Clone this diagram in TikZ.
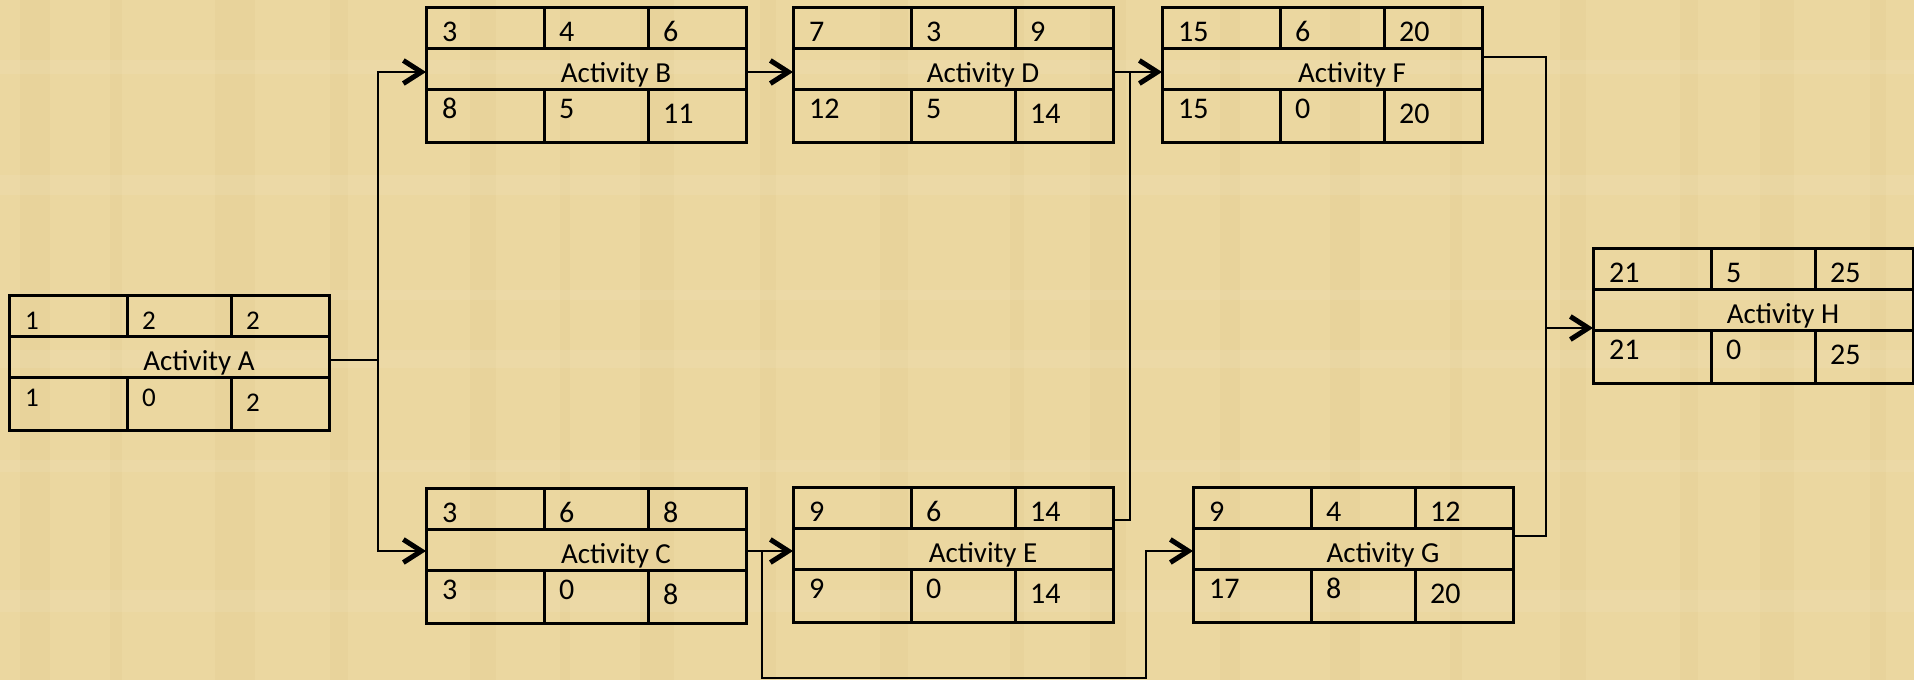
\documentclass[tikz,border=0pt]{standalone}
\usepackage{fontspec}
\setmainfont{Carlito}
\usetikzlibrary{arrows.meta}
\definecolor{papyrus}{RGB}{235,215,160}
\definecolor{papyrusdark}{RGB}{214,186,120}
\tikzset{
  actbox/.style={draw=black, line width=3pt, minimum width=320pt, minimum height=135pt,
    inner sep=0pt, outer sep=0pt, anchor=north west},
  gridline/.style={line width=3pt},
  num/.style={anchor=base west, inner sep=0pt, font=\fontsize{30}{32}\selectfont},
  title/.style={anchor=base, inner sep=0pt, font=\fontsize{29}{31}\selectfont},
  conn/.style={line width=2pt},
  arr/.style={conn, -{Straight Barb[length=18pt,width=23pt,line width=5pt]}},
}
% name, x, y, t1, t2, t3, title
\newcommand\actbox[7]{%
  \node[actbox] (#1) at (#2,#3) {};
  \draw[gridline] ([yshift=-41pt]#1.north west) -- ([yshift=-41pt]#1.north east);
  \draw[gridline] ([yshift=-82pt]#1.north west) -- ([yshift=-82pt]#1.north east);
  \draw[gridline] ([xshift=118pt]#1.north west) -- ([xshift=118pt,yshift=-41pt]#1.north west);
  \draw[gridline] ([xshift=222pt]#1.north west) -- ([xshift=222pt,yshift=-41pt]#1.north west);
  \draw[gridline] ([xshift=118pt,yshift=-82pt]#1.north west) -- ([xshift=118pt]#1.south west);
  \draw[gridline] ([xshift=222pt,yshift=-82pt]#1.north west) -- ([xshift=222pt]#1.south west);
  \node[num] (#1-t1) at ([xshift=16pt,yshift=-34pt]#1.north west) {#4};
  \node[num] (#1-t2) at ([xshift=133pt,yshift=-34pt]#1.north west) {#5};
  \node[num] (#1-t3) at ([xshift=237pt,yshift=-34pt]#1.north west) {#6};
  \node[title] (#1-n) at ([xshift=190pt,yshift=-75pt]#1.north west) {#7};
}
% name, b1, b2, b3
\newcommand\actbottom[4]{%
  \node[num] (#1-b1) at ([xshift=16pt,yshift=-111pt]#1.north west) {#2};
  \node[num] (#1-b2) at ([xshift=133pt,yshift=-111pt]#1.north west) {#3};
  \node[num] (#1-b3) at ([xshift=237pt,yshift=-116pt]#1.north west) {#4};
}
\begin{document}
\begin{tikzpicture}[x=1pt,y=-1pt]
\useasboundingbox (0,0) rectangle (1914,680);
\fill[papyrus] (0,0) rectangle (1914,680);
% faint papyrus fibres
\foreach \xx/\ww in {20/30,110/12,215/40,330/18,470/26,560/10,640/34,760/16,880/28,1010/14,1090/36,1220/20,1330/30,1450/12,1560/26,1680/18,1760/34,1870/16}{
  \fill[papyrusdark,opacity=0.12] (\xx,0) rectangle ++(\ww,680);
}
\foreach \yy/\hh in {60/14,175/20,290/10,350/18,460/12,590/22}{
  \fill[white,opacity=0.07] (0,\yy) rectangle ++(1914,\hh);
}

\begin{scope}[num/.append style={font=\fontsize{27}{29}\selectfont}]
\actbox{A}{9}{295}{1}{2}{2}{Activity A}
\actbottom{A}{1}{0}{2}
\end{scope}
\actbox{B}{426}{7}{3}{4}{6}{Activity B}
\actbottom{B}{8}{5}{11}
\actbox{D}{793}{7}{7}{3}{9}{Activity D}
\actbottom{D}{12}{5}{14}
\actbox{F}{1162}{7}{15}{6}{20}{Activity F}
\actbottom{F}{15}{0}{20}
\actbox{C}{426}{488}{3}{6}{8}{Activity C}
\actbottom{C}{3}{0}{8}
\actbox{E}{793}{487}{9}{6}{14}{Activity E}
\actbottom{E}{9}{0}{14}
\actbox{G}{1193}{487}{9}{4}{12}{Activity G}
\actbottom{G}{17}{8}{20}
\actbox{H}{1593}{248}{21}{5}{25}{Activity H}
\actbottom{H}{21}{0}{25}

% junctions
\coordinate (jA) at (378,360);
\coordinate (jD) at (1130,72);
\coordinate (jC) at (762,551);
\coordinate (cg1) at (762,678);
\coordinate (cg2) at (1146,678);
\coordinate (jH) at (1546,328);

% connectors
\draw[conn] ([yshift=-65pt]A.north east) -- (jA);
\draw[arr] (jA) |- ([yshift=-65pt]B.north west);
\draw[arr] (jA) |- ([yshift=-63pt]C.north west);
\draw[arr] ([yshift=-65pt]B.north east) -- ([yshift=-65pt]D.north west);
\draw[arr] ([yshift=-65pt]D.north east) -- ([yshift=-65pt]F.north west);
\draw[conn] ([yshift=-33pt]E.north east) -| (jD);
\draw[arr] ([yshift=-63pt]C.north east) -- ([yshift=-64pt]E.north west);
\draw[arr] (jC) -- (cg1) -- (cg2) |- ([yshift=-64pt]G.north west);
\draw[conn] ([yshift=-50pt]F.north east) -| (jH);
\draw[conn] ([yshift=-49pt]G.north east) -| (jH);
\draw[arr] (jH) -- ([yshift=-80pt]H.north west);
\end{tikzpicture}
\end{document}
